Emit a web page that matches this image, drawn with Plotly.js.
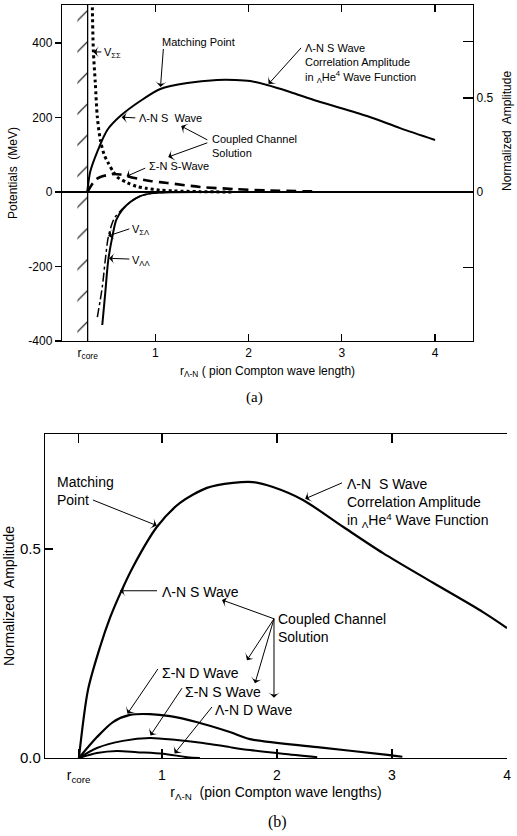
<!DOCTYPE html>
<html><head><meta charset="utf-8">
<script src="https://cdn.plot.ly/plotly-3.0.1.min.js"></script>
<style>html,body{margin:0;padding:0;background:#fff;} #chart{width:517px;height:836px;}</style>
</head><body><div id="chart"></div>
<script>
// ---------- shared ----------
const rCore = 0.275;
const hatchWidth = 0.11;
const xTickVals = [rCore, 1, 2, 3, 4];
const xTickText = ['r<sub>core</sub>', '1', '2', '3', '4'];

// ---------- Panel (a): potentials (MeV) ----------
const potTickVals = [-400, -200, 0, 200, 400];
const potTickText = ['-400', '-200', '0', '200', '400'];
const ampTickValsA = [0, 0.5];
const ampTickTextA = ['0', '0.5'];
const ampMinorTickValsA = [-0.4, 0.8];

const vSigSig_r = [0.318, 0.325, 0.336, 0.357, 0.379, 0.411, 0.454, 0.496, 0.55, 0.593, 0.70, 0.80, 0.90, 1.05, 1.19, 1.48, 1.85];
const vSigSig_V = [560, 497, 381, 293, 201, 140, 99, 78, 54, 40, 25, 15, 10, 5, 3, 1, 0];

const vLamLam_r = [0.432, 0.464, 0.496, 0.539, 0.582, 0.646, 0.732, 0.839, 0.979, 1.19, 1.48];
const vLamLam_V = [-357, -271, -183, -121, -75, -48, -27, -11, -3, -0.5, 0];

const vSigLam_r = [0.379, 0.432, 0.464, 0.496, 0.539, 0.571, 0.646, 0.732, 0.839, 0.979, 1.19, 1.48];
const vSigLam_V = [-336, -255, -183, -121, -83, -67, -46, -27, -11, -3, -0.5, 0];

// amplitudes drawn in panel (a) against the right axis
const aLamNS_r = [0.271, 0.304, 0.379, 0.486, 0.625, 0.839, 1.054, 1.343, 1.664, 1.857, 2.018, 2.20, 2.446, 2.736, 3.271, 3.625, 4.0];
const aLamNS_A = [0, 0.11, 0.215, 0.33, 0.404, 0.484, 0.548, 0.580, 0.596, 0.596, 0.590, 0.569, 0.532, 0.484, 0.404, 0.340, 0.277];

const aSigNS_r = [0.272, 0.357, 0.411, 0.486, 0.55, 0.625, 0.764, 0.946, 1.13, 1.48, 1.84, 2.23, 2.73];
const aSigNS_A = [0, 0.064, 0.080, 0.090, 0.096, 0.093, 0.076, 0.059, 0.048, 0.027, 0.016, 0.008, 0.003];

// ---------- Panel (b): normalized amplitudes ----------
const ampTickValsB = [0, 0.5];
const ampTickTextB = ['0.0', '0.5'];

const bLamNS_r = [0.278, 0.357, 0.461, 0.548, 0.635, 0.748, 0.957, 1.157, 1.391, 1.617, 1.791, 1.965, 2.226, 2.574, 2.922, 3.357, 3.791, 4.0];
const bLamNS_A = [0, 0.163, 0.265, 0.335, 0.392, 0.457, 0.553, 0.610, 0.646, 0.658, 0.660, 0.648, 0.617, 0.553, 0.490, 0.419, 0.349, 0.311];

const bSigND_r = [0.278, 0.435, 0.574, 0.722, 0.896, 1.07, 1.30, 1.59, 1.765, 2.35, 2.98, 3.09];
const bSigND_A = [0, 0.050, 0.086, 0.103, 0.105, 0.100, 0.086, 0.062, 0.045, 0.026, 0.007, 0.003];

const bSigNS_r = [0.278, 0.435, 0.661, 0.896, 1.13, 1.357, 1.59, 1.765, 2.05, 2.35];
const bSigNS_A = [0, 0.024, 0.041, 0.048, 0.043, 0.036, 0.026, 0.019, 0.010, 0.002];

const bLamND_r = [0.278, 0.435, 0.609, 0.783, 1.01, 1.22, 1.33];
const bLamND_A = [0, 0.012, 0.017, 0.014, 0.010, 0.002, 0];

// ---------- pointer arrows: [tail, head] in data units of each panel ----------
const arrowsA = [
  [[0.422, 376], [0.336, 376]],     // V_ΣΣ
  [[1.087, 384], [1.056, 282]],     // Matching Point
  [[0.786, 199], [0.640, 201]],     // Λ-N S Wave
  [[1.558, 140], [1.278, 177]],     // Coupled -> Λ-N label
  [[1.558, 132], [1.139, 94]],      // Coupled -> Σ-N label
  [[0.892, 64], [0.692, 42]],       // Σ-N S-Wave
  [[2.564, 387], [2.215, 290]],     // Correlation amplitude
  [[0.722, -99], [0.495, -118]],    // V_ΣΛ
  [[0.722, -180], [0.505, -178]]    // V_ΛΛ
];
const arrowsB = [
  [[0.40, 0.617], [0.955, 0.556]],  // Matching Point
  [[0.957, 0.40], [0.635, 0.40]],   // Λ-N S Wave
  [[2.565, 0.658], [2.245, 0.620]], // Correlation amplitude
  [[1.974, 0.333], [1.522, 0.378]], // Coupled -> Λ-N S
  [[1.974, 0.333], [1.739, 0.234]], // Coupled -> Σ-N D
  [[1.974, 0.333], [1.809, 0.179]], // Coupled -> Σ-N S
  [[1.974, 0.333], [1.974, 0.144]], // Coupled -> Λ-N D
  [[0.965, 0.213], [0.700, 0.106]], // Σ-N D Wave
  [[1.174, 0.167], [0.900, 0.054]], // Σ-N S Wave
  [[1.435, 0.122], [1.110, 0.011]]  // Λ-N D Wave
];

// ---------- ranges ----------
const xRangeA = [0, 4.407];
const potRange = [-400, 502];
const ampRangeA = [-0.7926, 0.9947];
const xRangeB = [-0.017, 4.0];
const ampRangeB = [0, 0.775];

const FONT = 'Liberation Sans, Arial, sans-serif';
const BLK = 'black';

function line(x, y, xa, ya, width, dash, shape) {
  return {type: 'scatter', mode: 'lines', x: x, y: y, xaxis: xa, yaxis: ya,
    line: {color: BLK, width: width, dash: dash || 'solid', shape: shape || 'spline', smoothing: 0.8},
    showlegend: false, hoverinfo: 'skip'};
}
function pointer(pair, xa, ya) {
  return {type: 'scatter', mode: 'lines+markers', x: [pair[0][0], pair[1][0]], y: [pair[0][1], pair[1][1]],
    xaxis: xa, yaxis: ya, showlegend: false, hoverinfo: 'skip', cliponaxis: false,
    line: {color: BLK, width: 1},
    marker: {symbol: 'arrow-wide', angleref: 'previous', size: [1, 8], opacity: [0, 1], color: BLK,
      line: {width: 0}}};
}

const traces = [
  // hatched hard core wall (panel a)
  {type: 'bar', x: [rCore - hatchWidth / 2], y: [potRange[1] - potRange[0]], base: [potRange[0]],
   width: [hatchWidth], xaxis: 'x', yaxis: 'y', showlegend: false, hoverinfo: 'skip',
   marker: {color: BLK, line: {width: 0},
     pattern: {shape: '/', fgcolor: BLK, bgcolor: 'rgba(0,0,0,0)', size: 22, solidity: 0.05, fillmode: 'replace'}}},
  line([rCore, rCore], potRange, 'x', 'y', 1.3, 'solid', 'linear'),
  line(vSigSig_r, vSigSig_V, 'x', 'y', 3, 'dot'),
  line(vSigLam_r, vSigLam_V, 'x', 'y', 1.5, 'dashdot'),
  line(vLamLam_r, vLamLam_V, 'x', 'y', 2),
  line(aLamNS_r, aLamNS_A, 'x', 'y3', 2),
  line(aSigNS_r, aSigNS_A, 'x', 'y3', 2.6, '10px,6px'),
  // panel b
  line(bLamNS_r, bLamNS_A, 'x2', 'y2', 2.2),
  line(bSigND_r, bSigND_A, 'x2', 'y2', 2.2),
  line(bSigNS_r, bSigNS_A, 'x2', 'y2', 2),
  line(bLamND_r, bLamND_A, 'x2', 'y2', 2)
].concat(arrowsA.map(p => pointer(p, 'x', 'y')), arrowsB.map(p => pointer(p, 'x2', 'y2')));

function txt(xa, ya, x, y, text, size) {
  return {xref: xa, yref: ya, x: x, y: y, text: text, showarrow: false,
    xanchor: 'left', yanchor: 'middle', align: 'left',
    font: {family: FONT, size: size, color: BLK}};
}

const annotations = [
  // panel (a)
  txt('x', 'y', 0.43, 373, 'V<sub>ΣΣ</sub>', 11),
  txt('x', 'y', 1.055, 403, 'Matching Point', 11),
  txt('x', 'y', 0.807, 199, 'Λ-N S  Wave', 11),
  txt('x', 'y', 1.59, 123, 'Coupled Channel<br>Solution', 11),
  txt('x', 'y', 0.914, 70, 'Σ-N S-Wave', 11),
  txt('x', 'y', 2.586, 346, 'Λ-N S Wave<br>Correlation Amplitude<br>in <sub>Λ</sub>He<sup>4</sup> Wave Function', 11),
  txt('x', 'y', 0.732, -102, 'V<sub>ΣΛ</sub>', 11),
  txt('x', 'y', 0.732, -185, 'V<sub>ΛΛ</sub>', 11),
  // right-hand axis title of panel (a)
  {xref: 'paper', yref: 'paper', x: 0.982, y: 0.843, text: 'Normalized  Amplitude', showarrow: false,
   textangle: -90, xanchor: 'center', yanchor: 'middle', font: {family: FONT, size: 12, color: BLK}},
  // panel (b)
  txt('x2', 'y2', 0.07, 0.639, 'Matching<br>Point', 14),
  txt('x2', 'y2', 0.983, 0.397, 'Λ-N S Wave', 14),
  txt('x2', 'y2', 2.591, 0.610, 'Λ-N  S Wave<br>Correlation Amplitude<br>in <sub>Λ</sub>He<sup>4</sup> Wave Function', 14),
  txt('x2', 'y2', 1.991, 0.311, 'Coupled Channel<br>Solution', 14),
  txt('x2', 'y2', 0.983, 0.203, 'Σ-N D Wave', 14),
  txt('x2', 'y2', 1.183, 0.158, 'Σ-N S Wave', 14),
  txt('x2', 'y2', 1.443, 0.115, 'Λ-N D Wave', 14),
  // panel captions
  {xref: 'paper', yref: 'paper', x: 0.493, y: 0.525, text: '(a)', showarrow: false,
   xanchor: 'center', yanchor: 'middle', font: {family: 'Liberation Serif, serif', size: 15, color: BLK}},
  {xref: 'paper', yref: 'paper', x: 0.536, y: 0.0167, text: '(b)', showarrow: false,
   xanchor: 'center', yanchor: 'middle', font: {family: 'Liberation Serif, serif', size: 16, color: BLK}}
];

const axBase = {showgrid: false, zeroline: false, linecolor: BLK, linewidth: 1.2, color: BLK,
  tickcolor: BLK, tickwidth: 1.2, tickmode: 'array', fixedrange: true};

const layout = {
  width: 517, height: 836,
  margin: {l: 0, r: 0, t: 0, b: 0, pad: 0},
  paper_bgcolor: '#fff', plot_bgcolor: '#fff',
  font: {family: FONT, color: BLK},
  showlegend: false,
  xaxis: Object.assign({}, axBase, {domain: [0.1199, 0.9149], range: xRangeA, anchor: 'y',
    tickvals: xTickVals, ticktext: xTickText, ticks: 'inside', ticklen: 7, mirror: 'ticks', showline: true,
    tickfont: {family: FONT, size: 12, color: BLK},
    title: {text: 'r<sub>Λ-N</sub> ( pion Compton wave length)', font: {family: FONT, size: 12, color: BLK}, standoff: 6}}),
  yaxis: Object.assign({}, axBase, {domain: [0.5921, 0.9940], range: potRange, anchor: 'x',
    tickvals: potTickVals, ticktext: potTickText, ticks: 'outside', ticklen: 6, mirror: true, showline: true,
    zeroline: true, zerolinecolor: BLK, zerolinewidth: 1.2,
    tickfont: {family: FONT, size: 12, color: BLK},
    title: {text: 'Potentials  (MeV)', font: {family: FONT, size: 12, color: BLK}, standoff: 8}}),
  yaxis3: Object.assign({}, axBase, {overlaying: 'y', side: 'right', anchor: 'x', range: ampRangeA,
    tickvals: ampTickValsA, ticktext: ampTickTextA, ticks: 'inside', ticklen: 10, showline: true,
    minor: {tickmode: 'array', tickvals: ampMinorTickValsA, ticks: 'inside', ticklen: 10, tickcolor: BLK, tickwidth: 1.2, showgrid: false},
    tickfont: {family: FONT, size: 12, color: BLK}}),
  xaxis2: Object.assign({}, axBase, {domain: [0.0870, 0.9807], range: xRangeB, anchor: 'y2',
    tickvals: xTickVals, ticktext: xTickText, ticks: 'inside', ticklen: 9, mirror: 'ticks', showline: true,
    tickfont: {family: FONT, size: 14, color: BLK}, ticklabelstandoff: 4,
    title: {text: 'r<sub>Λ-N</sub>  (pion Compton wave lengths)', font: {family: FONT, size: 14, color: BLK}, standoff: 3}}),
  yaxis2: Object.assign({}, axBase, {domain: [0.0933, 0.4809], range: ampRangeB, anchor: 'x2',
    tickvals: ampTickValsB, ticktext: ampTickTextB, ticks: 'inside', ticklen: 8, showline: true,
    tickfont: {family: FONT, size: 15, color: BLK},
    title: {text: 'Normalized  Amplitude', font: {family: FONT, size: 14, color: BLK}, standoff: 2}}),
  annotations: annotations
};

Plotly.newPlot('chart', traces, layout, {displayModeBar: false, staticPlot: true});
</script>
</body></html>
